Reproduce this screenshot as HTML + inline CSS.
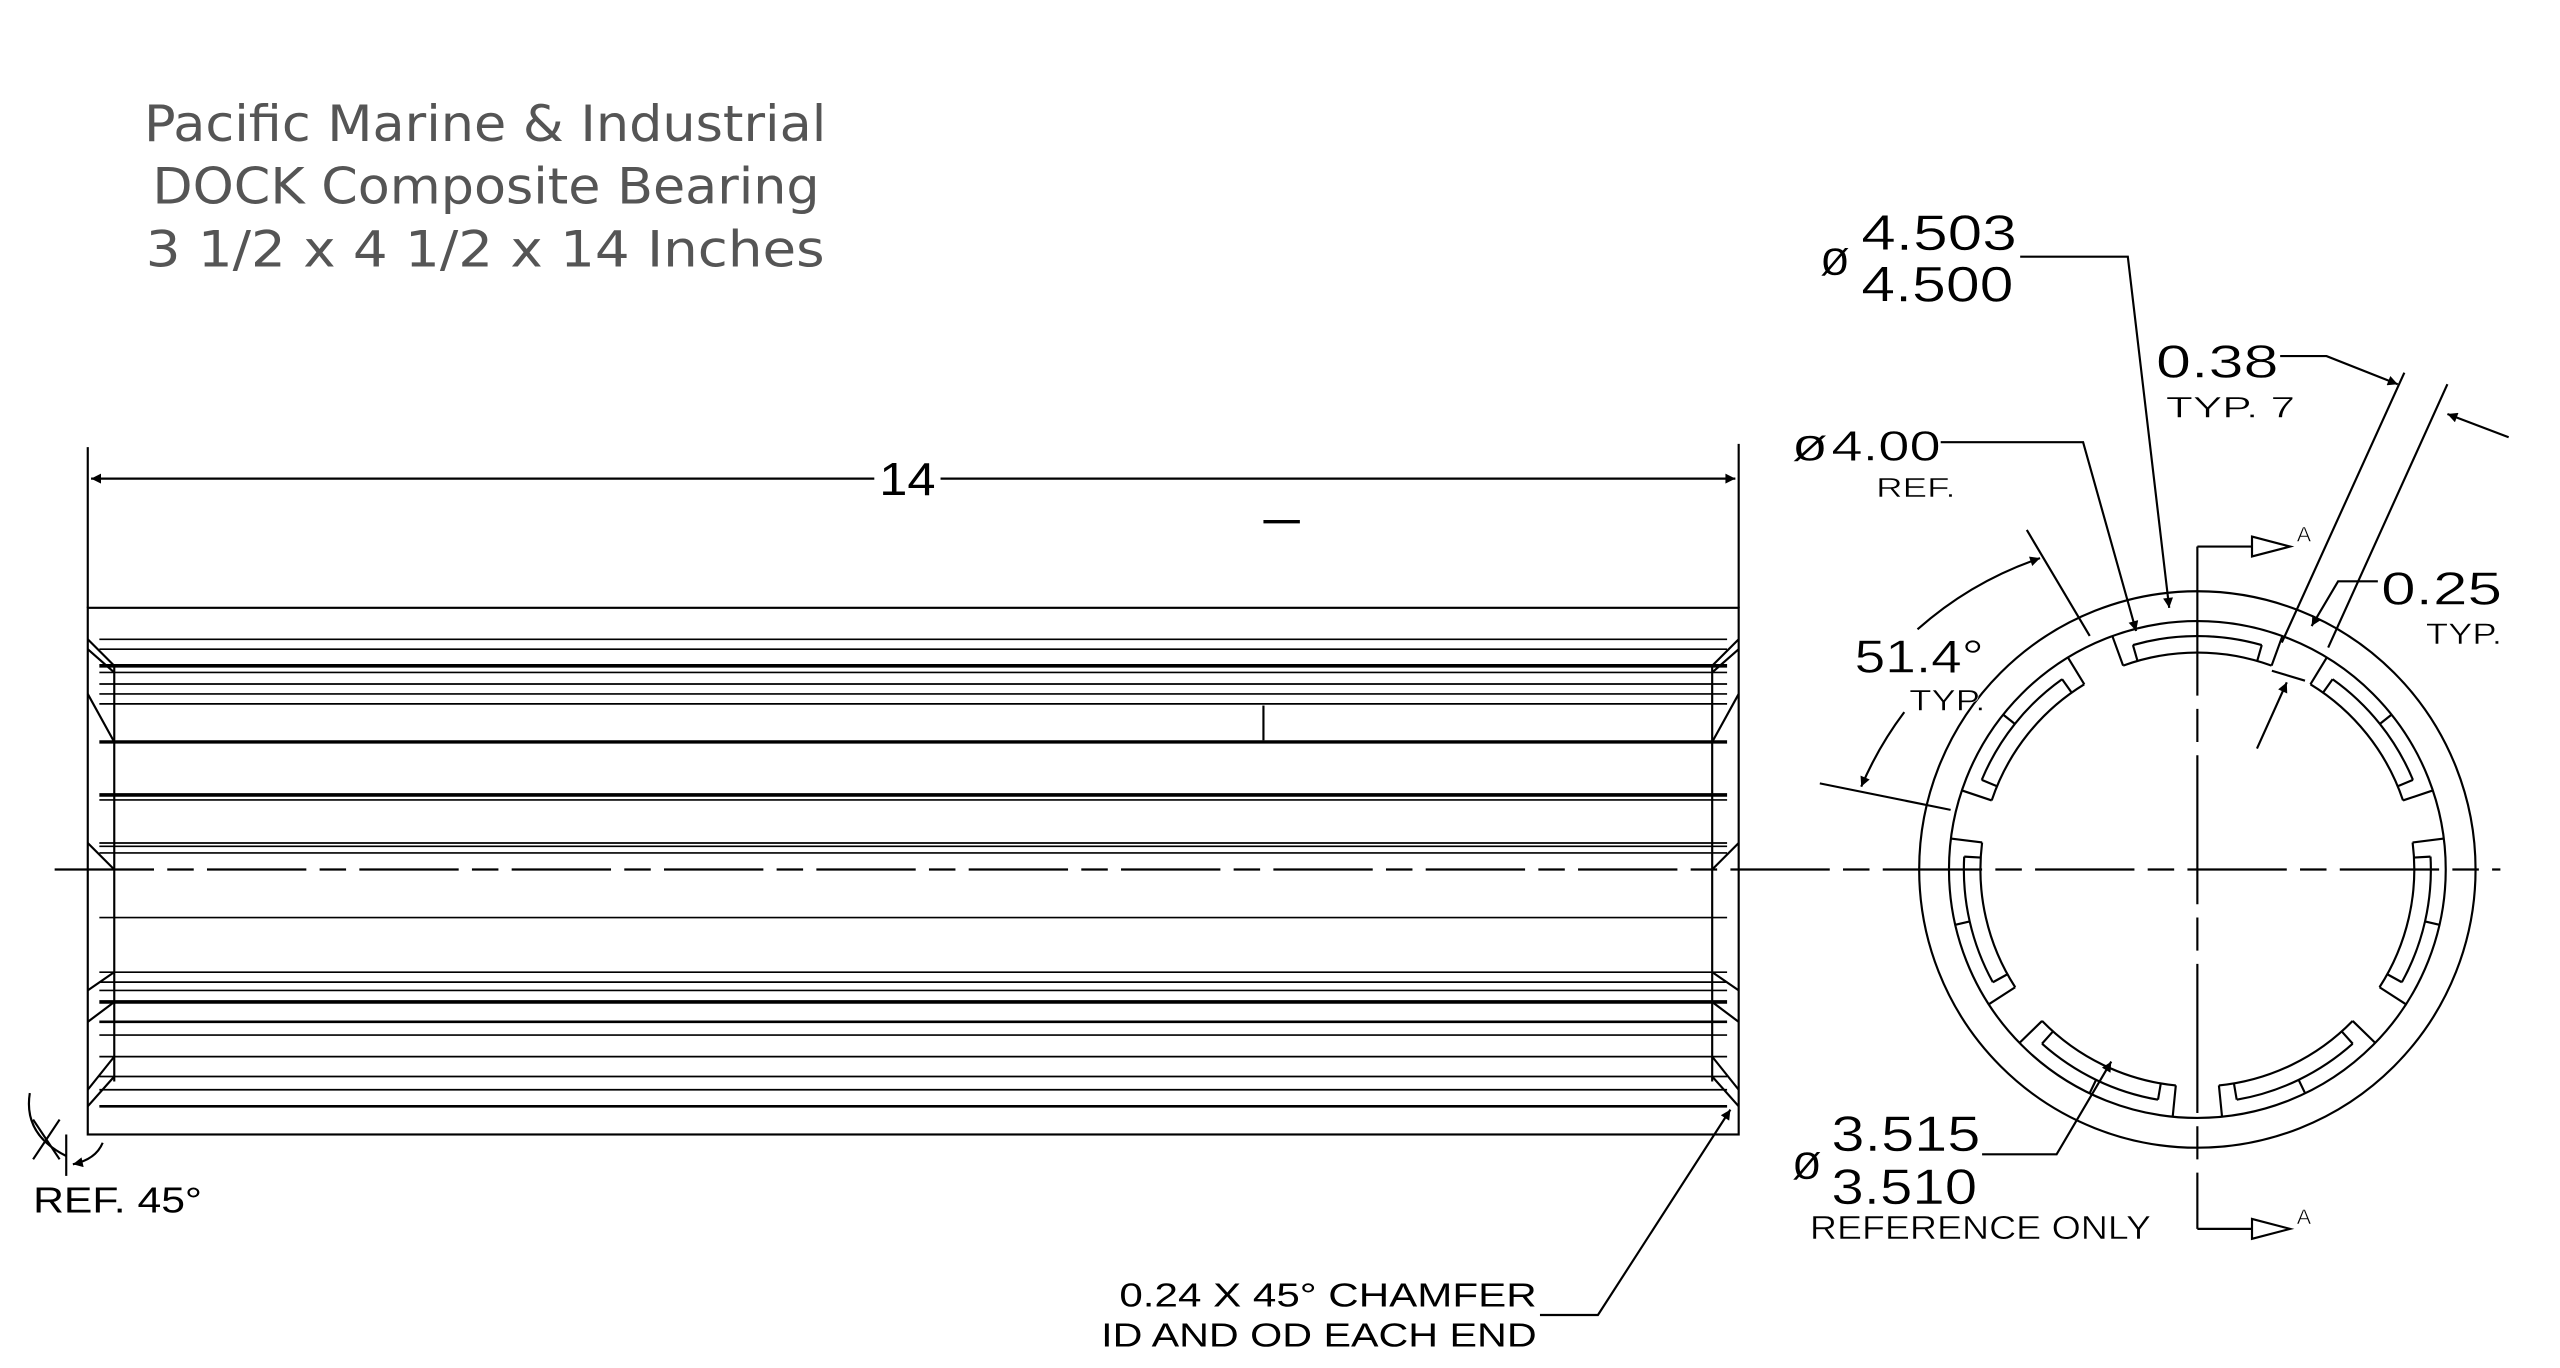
<!DOCTYPE html>
<html><head><meta charset="utf-8"><style>
html,body{margin:0;padding:0;background:#fff;}
svg{display:block;}
.c{font-family:"Liberation Sans",sans-serif;fill:#000;}
</style></head><body>
<svg id="s" width="2560" height="1368" viewBox="0 0 1546 826" preserveAspectRatio="none" xmlns="http://www.w3.org/2000/svg">
<defs>
<marker id="ar" viewBox="0 0 10 10" refX="10" refY="5" markerWidth="14" markerHeight="6" markerUnits="userSpaceOnUse" orient="auto"><path d="M0,0 L10,5 L0,10 z" fill="#000"/></marker>
</defs>
<g font-family="DejaVu Sans, sans-serif" fill="#555" font-size="30">
<text x="87" y="85" textLength="412" lengthAdjust="spacingAndGlyphs">Pacific Marine &amp; Industrial</text>
<text x="92" y="123" textLength="403" lengthAdjust="spacingAndGlyphs">DOCK Composite Bearing</text>
<text x="88" y="161" textLength="410" lengthAdjust="spacingAndGlyphs">3 1/2 x 4 1/2 x 14 Inches</text>
</g>
<g stroke="#000" stroke-width="1.3" fill="none">
<line x1="53" y1="270" x2="53" y2="367"/>
<line x1="1050" y1="268" x2="1050" y2="367"/>
<line x1="528" y1="289" x2="55" y2="289" marker-end="url(#ar)"/>
<line x1="568" y1="289" x2="1048" y2="289" marker-end="url(#ar)"/>
<line x1="763" y1="315" x2="785" y2="315" stroke-width="2"/>
<rect x="53" y="367" width="997" height="318"/>
<g id="hl"></g>
<line x1="69" y1="402" x2="69" y2="653"/>
<line x1="1034" y1="402" x2="1034" y2="653"/>
<line x1="763" y1="426" x2="763" y2="447"/>
<line x1="33" y1="525" x2="1510" y2="525" stroke-dasharray="60,8,16,8"/>
<line x1="40" y1="685" x2="40" y2="710"/>
<path d="M18,660 Q14,685 40,698"/>
<line x1="20" y1="676" x2="36" y2="700"/>
<line x1="20" y1="700" x2="36" y2="676"/>
<path d="M62,690 Q58,700 44,703" marker-end="url(#ar)"/>
<polyline points="930,794 965,794 1045,670" marker-end="url(#ar)"/>
</g>
<g class="c">
<text x="548" y="299" font-size="28" text-anchor="middle" textLength="34" lengthAdjust="spacingAndGlyphs">14</text>
<text x="20" y="732" font-size="22" textLength="102" lengthAdjust="spacingAndGlyphs">REF. 45°</text>
<text x="676" y="789" font-size="20" textLength="252" lengthAdjust="spacingAndGlyphs">0.24 X 45° CHAMFER</text>
<text x="665" y="813" font-size="20" textLength="263" lengthAdjust="spacingAndGlyphs">ID AND OD EACH END</text>
</g>
<g stroke="#000" stroke-width="1.3" fill="none">
<circle cx="1327" cy="525" r="168"/>
<circle cx="1327" cy="525" r="150"/>
<g id="ring"></g>
<line x1="1327" y1="330" x2="1327" y2="742" stroke-dasharray="90,8,20,8"/>
<polyline points="1327,330 1360,330"/>
<path d="M1360,324 L1383,330 L1360,336 z"/>
<polyline points="1327,742 1360,742"/>
<path d="M1360,736 L1383,742 L1360,748 z"/>
<polyline points="1220,155 1285,155 1310,367" marker-end="url(#ar)"/>
<polyline points="1172,267 1258,267 1290,381" marker-end="url(#ar)"/>
<line x1="1452" y1="225" x2="1378" y2="388"/>
<line x1="1478" y1="232" x2="1406" y2="391"/>
<polyline points="1377,215 1405,215 1448,232" marker-end="url(#ar)"/>
<line x1="1515" y1="264" x2="1478" y2="250" marker-end="url(#ar)"/>
<polyline points="1436,351 1412,351 1396,378" marker-end="url(#ar)"/>
<line x1="1363" y1="452" x2="1381" y2="412" marker-end="url(#ar)"/>
<line x1="1372" y1="405" x2="1392" y2="411"/>
<line x1="1224" y1="320" x2="1262" y2="384"/>
<line x1="1099" y1="473" x2="1178" y2="489"/>
<path d="M1158,380 A215,215 0 0 1 1232,337" marker-end="url(#ar)"/>
<path d="M1150,430 A215,215 0 0 0 1124,475" marker-end="url(#ar)"/>
<polyline points="1197,697 1242,697 1275,641" marker-end="url(#ar)"/>
</g>
<g class="c" stroke="#fff" stroke-width="0.3">
<text x="1099" y="166" font-size="30">ø</text>
<text x="1124" y="151" font-size="30" textLength="94" lengthAdjust="spacingAndGlyphs">4.503</text>
<text x="1124" y="182" font-size="30" textLength="92" lengthAdjust="spacingAndGlyphs">4.500</text>
<text x="1082" y="278" font-size="28" textLength="22" lengthAdjust="spacingAndGlyphs">ø</text>
<text x="1106" y="278" font-size="26" textLength="66" lengthAdjust="spacingAndGlyphs">4.00</text>
<text x="1133" y="300" font-size="17" textLength="48" lengthAdjust="spacingAndGlyphs">REF.</text>
<text x="1302" y="228" font-size="28" textLength="74" lengthAdjust="spacingAndGlyphs">0.38</text>
<text x="1308" y="252" font-size="18" textLength="78" lengthAdjust="spacingAndGlyphs">TYP. 7</text>
<text x="1438" y="365" font-size="28" textLength="73" lengthAdjust="spacingAndGlyphs">0.25</text>
<text x="1465" y="389" font-size="18" textLength="46" lengthAdjust="spacingAndGlyphs">TYP.</text>
<text x="1120" y="406" font-size="28" textLength="78" lengthAdjust="spacingAndGlyphs">51.4°</text>
<text x="1153" y="429" font-size="18" textLength="46" lengthAdjust="spacingAndGlyphs">TYP.</text>
<text x="1082" y="712" font-size="30">ø</text>
<text x="1106" y="695" font-size="30" textLength="90" lengthAdjust="spacingAndGlyphs">3.515</text>
<text x="1106" y="727" font-size="30" textLength="88" lengthAdjust="spacingAndGlyphs">3.510</text>
<text x="1093" y="748" font-size="20" textLength="206" lengthAdjust="spacingAndGlyphs">REFERENCE ONLY</text>
<text x="1387" y="327" font-size="13">A</text>
<text x="1387" y="739" font-size="13">A</text>
</g>
</svg>
<script>
var NS="http://www.w3.org/2000/svg";
function add(p,tag,a){var e=document.createElementNS(NS,tag);for(var k in a)e.setAttribute(k,a[k]);p.appendChild(e);return e;}
var hl=document.getElementById('hl');
var ys=[[386,1],[392,1],[402,2.2],[406,1],[413,1],[419,1],[425,1],[448,2],[480,2.2],[483,1],[509,1],[511,1],[515,1],[554,1],[587,1],[593,1],[598,1],[605,2.2],[617,1.6],[625,1],[638,1],[650,1],[658,1],[668,1.6]];
ys.forEach(function(v){add(hl,'line',{x1:60,y1:v[0],x2:1043,y2:v[0],'stroke-width':v[1]});});
[[386,402],[392,406],[419,448],[509,525],[668,650],[658,638],[617,605],[598,587]].forEach(function(p){
 add(hl,'line',{x1:53,y1:p[0],x2:69,y2:p[1]});
 add(hl,'line',{x1:1050,y1:p[0],x2:1034,y2:p[1]});
});
var g=document.getElementById('ring'),cx=1327,cy=525;
function pt(r,a){a=a*Math.PI/180;return [cx+r*Math.cos(a),cy+r*Math.sin(a)];}
function arc(r,a1,a2){var p1=pt(r,a1),p2=pt(r,a2);return 'M'+p1[0].toFixed(1)+','+p1[1].toFixed(1)+' A'+r+','+r+' 0 0 1 '+p2[0].toFixed(1)+','+p2[1].toFixed(1);}
function ln(r1,r2,a){var p1=pt(r1,a),p2=pt(r2,a);add(g,'line',{x1:p1[0],y1:p1[1],x2:p2[0],y2:p2[1]});}
var st=360/7,hw=5.7;
for(var k=0;k<7;k++){
 var a=90+k*st;
 add(g,'path',{d:arc(131,a+hw,a+st-hw)});
 ln(131,150,a+hw);ln(131,150,a+st-hw);
 add(g,'path',{d:arc(141,a+hw+4,a+st-hw-4)});
 ln(131,141,a+hw+4);ln(131,141,a+st-hw-4);
 ln(141,150,a+st/2);
}
</script>
</body></html>
